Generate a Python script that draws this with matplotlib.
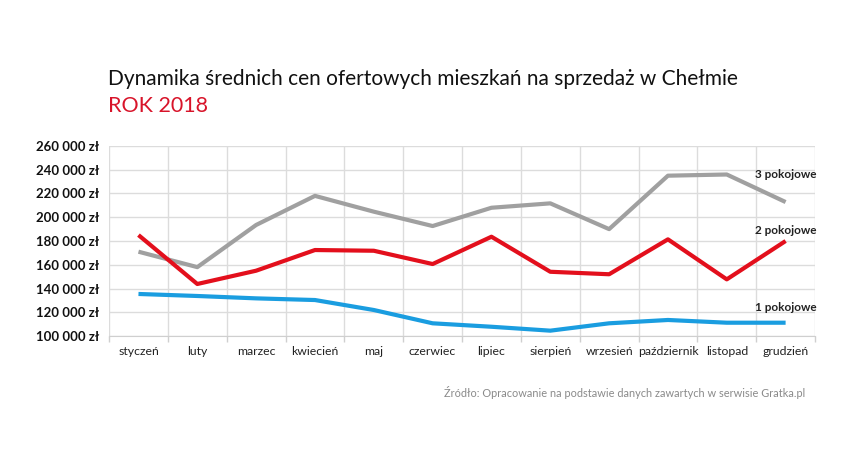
import numpy as np
import matplotlib.pyplot as plt
from matplotlib.ticker import FixedLocator

plt.rcParams['font.family'] = ['Lato', 'DejaVu Sans']

months = ['styczeń', 'luty', 'marzec', 'kwiecień', 'maj', 'czerwiec',
          'lipiec', 'sierpień', 'wrzesień', 'październik', 'listopad', 'grudzień']
rooms3 = [171000, 158000, 193500, 218000, 204700, 192600,
          208000, 211700, 190000, 235000, 236000, 212800]
rooms2 = [185000, 143800, 155000, 172400, 171800, 160600,
          183600, 154100, 152000, 181400, 147700, 180000]
rooms1 = [135400, 133700, 131700, 130300, 121900, 110700,
          107800, 104500, 110700, 113500, 111200, 111200]
yticks = list(range(100000, 260001, 20000))

fig = plt.figure(figsize=(8.52, 4.62), dpi=100)
ax = fig.add_axes([0.128, 0.2727, 0.8286, 0.4113])

x = np.arange(len(months))
ax.plot(x, rooms3, color='#a0a0a0', lw=3, solid_capstyle='butt', zorder=3)
ax.plot(x, rooms2, color='#e30f1c', lw=3, solid_capstyle='butt', zorder=4)
ax.plot(x, rooms1, color='#1a9de0', lw=3, solid_capstyle='butt', zorder=5)

ax.text(11, 235600, '3 pokojowe', ha='center', va='center', fontsize=8.5,
        fontweight='bold', color='#222222')
ax.text(11, 189000, '2 pokojowe', ha='center', va='center', fontsize=8.5,
        fontweight='bold', color='#222222')
ax.text(11, 123600, '1 pokojowe', ha='center', va='center', fontsize=8.5,
        fontweight='bold', color='#222222')

ax.set_xlim(-0.5, 11.5)
ax.set_ylim(100000, 260000)
ax.set_xticks(x)
ax.set_xticklabels(months, fontsize=8.8, color='#222222')
ax.xaxis.set_minor_locator(FixedLocator(np.arange(-0.5, 12, 1)))
ax.set_yticks(yticks)
ax.set_yticklabels([f'{v:,}'.replace(',', ' ') + ' zł' for v in yticks],
                   fontsize=9.5, fontweight='bold', color='#111111')
ax.tick_params(axis='x', which='major', length=0, pad=7)
ax.tick_params(axis='x', which='minor', length=4, color='#cfcfcf', width=1)
ax.tick_params(axis='y', length=0, pad=7)

ax.grid(axis='y', which='major', color='#dcdcdc', lw=1)
ax.grid(axis='x', which='minor', color='#dcdcdc', lw=1)
for s in ['top', 'right', 'left']:
    ax.spines[s].set_visible(False)
ax.spines['bottom'].set_color('#cfcfcf')
ax.set_axisbelow(True)

fig.text(0.127, 0.83, 'Dynamika średnich cen ofertowych mieszkań na sprzedaż w Chełmie',
         fontsize=15, color='#111111', va='center')
fig.text(0.127, 0.77, 'ROK 2018', fontsize=15.5, color='#d8142a', va='center')
fig.text(0.945, 0.15, 'Źródło: Opracowanie na podstawie danych zawartych w serwisie Gratka.pl',
         fontsize=7.9, color='#8a8a8a', ha='right', va='center')

fig.savefig('out.png', dpi=100)
